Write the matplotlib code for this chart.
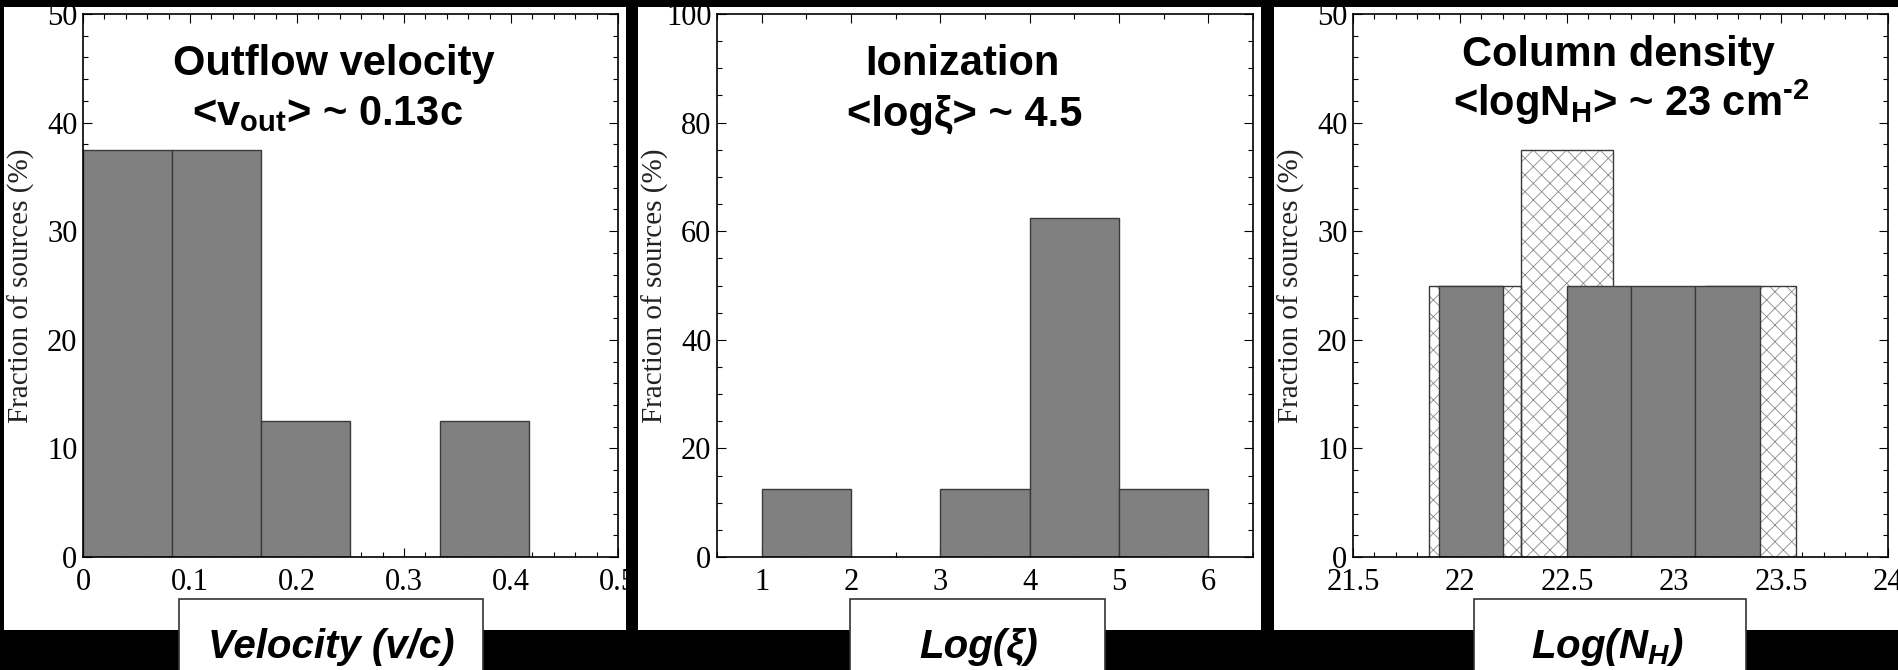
import numpy as np
import matplotlib
matplotlib.use("Agg")
import matplotlib.pyplot as plt
from matplotlib.patches import Rectangle
from matplotlib.ticker import MultipleLocator

# velocity histogram (fraction of sources, %)
vel_edges = [0.0, 0.0833, 0.1667, 0.25, 0.3333, 0.4167]
vel_frac = [37.5, 37.5, 12.5, 0.0, 12.5]

# ionization histogram
ion_edges = [1, 2, 3, 4, 5, 6]
ion_frac = [12.5, 0.0, 12.5, 62.5, 12.5]

# column density: solid bins and hatched (alternative binning)
nh_edges = [21.9, 22.2, 22.5, 22.8, 23.1, 23.4]
nh_frac = [25.0, 0.0, 25.0, 25.0, 25.0]
nh_alt_edges = [21.857, 22.286, 22.714, 23.143, 23.571]
nh_alt_frac = [25.0, 37.5, 12.5, 25.0]

titles = ["Outflow velocity", "Ionization", "Column density"]
subtitles = [r"<v$_{\mathrm{out}}$> ~ 0.13c", "<logξ> ~ 4.5",
             r"<logN$_{\mathrm{H}}$> ~ 23 cm$^{\text{-2}}$"]
xlabels = ["Velocity (v/c)", "Log(ξ)", r"Log(N$_{H}$)"]
ylabel = "Fraction of sources (%)"

plt.rcParams["font.family"] = ["Liberation Serif", "DejaVu Serif"]
plt.rcParams["xtick.labelsize"] = 22
plt.rcParams["ytick.labelsize"] = 22
plt.rcParams["xtick.major.pad"] = 8
plt.rcParams["ytick.major.pad"] = 4
plt.rcParams["mathtext.fontset"] = "custom"
plt.rcParams["mathtext.rm"] = "Liberation Sans:bold"
plt.rcParams["mathtext.bf"] = "Liberation Sans:bold"
plt.rcParams["mathtext.it"] = "Liberation Sans:bold:italic"
plt.rcParams["mathtext.sf"] = "Liberation Sans:bold"
plt.rcParams["hatch.linewidth"] = 0.6

W, H = 1899, 670
fig = plt.figure(figsize=(W / 100, H / 100), dpi=100, facecolor="black")


def box(x0, y0, x1, y1):
    return [x0 / W, 1 - y1 / H, (x1 - x0) / W, (y1 - y0) / H]


def fx(x):
    return x / W


def fy(y):
    return 1 - y / H


panels = [(4, 7, 626, 630), (638, 7, 1261, 630), (1274, 7, 1899, 630)]
axes_px = [(83, 14, 618, 557), (717, 14, 1253, 557), (1353, 14, 1888, 557)]
label_boxes = [(179, 599, 483), (850, 599, 1105), (1474, 599, 1746)]
title_pos = [(334, 75, 327, 125), (962, 75, 965, 126), (1618, 66, 1631, 116)]
xlabel_x = [331, 979, 1607]

for (x0, y0, x1, y1) in panels:
    fig.patches.append(Rectangle((fx(x0), fy(y1)), (x1 - x0) / W, (y1 - y0) / H,
                                 transform=fig.transFigure, facecolor="white",
                                 edgecolor="none", zorder=-5))

axs = [fig.add_axes(box(*p)) for p in axes_px]

bar_kw = dict(align="edge", color="#808080", edgecolor="#3a3a3a", linewidth=1.0, zorder=3)

ax = axs[0]
ax.bar(vel_edges[:-1], vel_frac, width=np.diff(vel_edges), **bar_kw)
ax.set_xlim(0, 0.5)
ax.set_ylim(0, 50)
ax.xaxis.set_minor_locator(MultipleLocator(0.02))
ax.yaxis.set_major_locator(MultipleLocator(10))
ax.yaxis.set_minor_locator(MultipleLocator(2))
ax.set_xticks([0, 0.1, 0.2, 0.3, 0.4, 0.5], ["0", "0.1", "0.2", "0.3", "0.4", "0.5"])

ax = axs[1]
ax.bar(ion_edges[:-1], ion_frac, width=np.diff(ion_edges), **bar_kw)
ax.set_xlim(0.5, 6.5)
ax.set_ylim(0, 100)
ax.xaxis.set_minor_locator(MultipleLocator(0.5))
ax.yaxis.set_major_locator(MultipleLocator(20))
ax.yaxis.set_minor_locator(MultipleLocator(5))
ax.set_xticks([1, 2, 3, 4, 5, 6])

ax = axs[2]
alt_w = np.diff(nh_alt_edges)
ax.bar(nh_alt_edges[:-1], nh_alt_frac, width=alt_w, align="edge", facecolor="white",
       edgecolor="#8a8a8a", hatch="xx", linewidth=0, zorder=2)
ax.bar(nh_alt_edges[:-1], nh_alt_frac, width=alt_w, align="edge", fill=False,
       edgecolor="#3a3a3a", linewidth=1.0, zorder=2.5)
ax.bar(nh_edges[:-1], nh_frac, width=np.diff(nh_edges), **bar_kw)
ax.set_xlim(21.5, 24)
ax.set_ylim(0, 50)
ax.xaxis.set_minor_locator(MultipleLocator(0.1))
ax.yaxis.set_major_locator(MultipleLocator(10))
ax.yaxis.set_minor_locator(MultipleLocator(2))
ax.set_xticks([21.5, 22, 22.5, 23, 23.5, 24], ["21.5", "22", "22.5", "23", "23.5", "24"])

for i, ax in enumerate(axs):
    ax.set_facecolor("white")
    for s in ax.spines.values():
        s.set_linewidth(1.2)
        s.set_zorder(5)
    ax.tick_params(which="both", direction="in", top=True, right=True, width=0.8)
    ax.tick_params(which="major", length=6.5)
    ax.tick_params(which="minor", length=3.6)
    for lab in ax.get_xticklabels() + ax.get_yticklabels():
        lab.set_fontsize(22)
    ax.set_ylabel(ylabel, fontsize=21, color="#222222")
    ax.yaxis.set_label_coords(-0.09, 0.5)

    tx1, ty1, tx2, ty2 = title_pos[i]
    fig.text(fx(tx1), fy(ty1), titles[i], ha="center", va="baseline", fontsize=30,
             family="Liberation Sans", weight="bold")
    fig.text(fx(tx2), fy(ty2), subtitles[i], ha="center", va="baseline", fontsize=30,
             family="Liberation Sans", weight="bold")

    bx0, by0, bx1 = label_boxes[i]
    fig.patches.append(Rectangle((fx(bx0), fy(675)), (bx1 - bx0) / W, (675 - by0) / H,
                                 transform=fig.transFigure, facecolor="white",
                                 edgecolor="#333333", linewidth=1.2, zorder=2))
    fig.text(fx(xlabel_x[i]), fy(658), xlabels[i], ha="center", va="baseline",
             fontsize=29, family="Liberation Sans", weight="bold", style="italic", zorder=3)

fig.savefig("out.png", dpi=100, facecolor="black")
